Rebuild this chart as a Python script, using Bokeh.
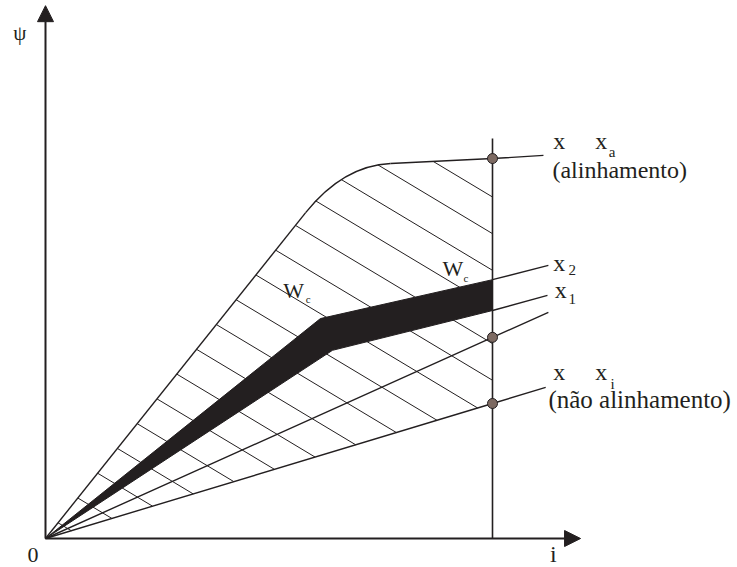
from bokeh.plotting import figure
from bokeh.models import Range1d, Arrow, NormalHead
from bokeh.core.properties import value
from bokeh.embed import file_html
from bokeh.resources import INLINE

INK = "#231f20"
DOT = "#7d6a62"
SERIF = "Liberation Serif"

# Flux linkage psi against current i (arbitrary units, i = 10 at the operating current)
I_MAX = 10.0

# aligned position x_a: linear, saturation knee (quadratic Bezier), then flat
ALIGNED_I = [0.0, 5.82, 7.72, 10.0, 11.14]
ALIGNED_PSI = [0.0, 7.29, 8.39, 8.50, 8.57]
KNEE_CTRL = (6.66, 8.34)

# unaligned position x_i
UNALIGNED_I = [0.0, 10.0, 11.19]
UNALIGNED_PSI = [0.0, 3.02, 3.38]

# intermediate position
MIDDLE_I = [0.0, 10.0, 11.25]
MIDDLE_PSI = [0.0, 4.50, 5.06]

# black band between positions x_1 and x_2
BAND_TOP_I = [0.0, 6.15, 10.0]
BAND_TOP_PSI = [0.0, 4.92, 5.79]
BAND_BOT_I = [0.0, 6.42, 10.0]
BAND_BOT_PSI = [0.0, 4.21, 5.10]
X2_END = (11.25, 6.11)
X1_END = (11.23, 5.44)

# operating points on the i = I_MAX line
DOT_PSI = [8.50, 4.50, 3.02]
VLINE_TOP = 8.95

# hatching of the co-energy area W_c
HATCH_SLOPE = -0.60
HATCH_STEP = 0.82
HATCH_REF = 12.0  # intercept of one hatch line

# axis arrow tips
X_TIP = 11.97
Y_TIP = 11.92

# labels: text, i, psi (baseline), font size in px, alignment
LABELS = [
    ("\u03c8", -0.72, 11.12, 21, "left"),
    ("0", -0.28, -0.56, 22, "center"),
    ("i", 11.36, -0.54, 24, "center"),
    ("x", 11.36, 8.68, 24, "left"),
    ("x", 12.30, 8.68, 24, "left"),
    ("a", 12.60, 8.52, 15, "left"),
    ("(alinhamento)", 11.34, 8.05, 24, "left"),
    ("x", 11.36, 5.95, 24, "left"),
    ("2", 11.70, 5.88, 15, "left"),
    ("x", 11.39, 5.35, 24, "left"),
    ("1", 11.70, 5.23, 15, "left"),
    ("x", 11.36, 3.52, 24, "left"),
    ("x", 12.30, 3.52, 24, "left"),
    ("i", 12.64, 3.33, 15, "left"),
    ("(n\u00e3o alinhamento)", 11.25, 2.90, 25, "left"),
    ("W", 5.32, 5.37, 22, "left"),
    ("c", 5.82, 5.26, 11, "left"),
    ("W", 8.88, 5.86, 22, "left"),
    ("c", 9.35, 5.73, 11, "left"),
]

SCALE = 44.7  # pixels per unit on both axes
W, H = 737, 567
p = figure(width=W, height=H, output_backend="svg", toolbar_location=None,
           x_axis_type=None, y_axis_type=None, min_border=0,
           x_range=Range1d(-45 / SCALE, (W - 45) / SCALE),
           y_range=Range1d(-(H - 538) / SCALE, 538 / SCALE))
p.grid.visible = False
p.outline_line_color = None
p.background_fill_color = "white"
p.border_fill_color = "white"


def bezier_points(p0, c, p1, n=40):
    pts = []
    for k in range(n + 1):
        t = k / n
        a, b, d = (1 - t) ** 2, 2 * (1 - t) * t, t ** 2
        pts.append((a * p0[0] + b * c[0] + d * p1[0], a * p0[1] + b * c[1] + d * p1[1]))
    return pts


# outline of the hatched area: aligned curve, i = I_MAX, unaligned line
knee = bezier_points((ALIGNED_I[1], ALIGNED_PSI[1]), KNEE_CTRL, (ALIGNED_I[2], ALIGNED_PSI[2]))
region = [(0.0, 0.0)] + knee + [(ALIGNED_I[3], ALIGNED_PSI[3]), (UNALIGNED_I[1], UNALIGNED_PSI[1])]

hx0, hy0, hx1, hy1 = [], [], [], []
for k in range(-30, 10):
    b = HATCH_REF + k * HATCH_STEP
    hits = []
    for j in range(len(region)):
        (ax, ay), (bx, by) = region[j], region[(j + 1) % len(region)]
        fa = ay - (b + HATCH_SLOPE * ax)
        fb = by - (b + HATCH_SLOPE * bx)
        if fa == fb or fa * fb > 0:
            continue
        t = fa / (fa - fb)
        hits.append((ax + t * (bx - ax), ay + t * (by - ay)))
    if len(hits) >= 2:
        hits.sort()
        (sx, sy), (ex, ey) = hits[0], hits[-1]
        if ex - sx > 1e-3:
            hx0.append(sx); hy0.append(sy); hx1.append(ex); hy1.append(ey)

p.segment(x0=hx0, y0=hy0, x1=hx1, y1=hy1, line_color=INK, line_width=1)

# black band
band_x = BAND_TOP_I + BAND_BOT_I[::-1][:-1]
band_y = BAND_TOP_PSI + BAND_BOT_PSI[::-1][:-1]
p.patch(band_x, band_y, fill_color=INK, line_color=INK, line_width=1)

LW = 1.4
# aligned curve
p.line(ALIGNED_I[:2], ALIGNED_PSI[:2], line_color=INK, line_width=LW)
p.quadratic(x0=[ALIGNED_I[1]], y0=[ALIGNED_PSI[1]], x1=[ALIGNED_I[2]], y1=[ALIGNED_PSI[2]],
            cx=[KNEE_CTRL[0]], cy=[KNEE_CTRL[1]], line_color=INK, line_width=LW)
p.line(ALIGNED_I[2:], ALIGNED_PSI[2:], line_color=INK, line_width=LW)

p.line(UNALIGNED_I, UNALIGNED_PSI, line_color=INK, line_width=LW)
p.line(MIDDLE_I, MIDDLE_PSI, line_color=INK, line_width=LW)
p.line([BAND_TOP_I[-1], X2_END[0]], [BAND_TOP_PSI[-1], X2_END[1]], line_color=INK, line_width=LW)
p.line([BAND_BOT_I[-1], X1_END[0]], [BAND_BOT_PSI[-1], X1_END[1]], line_color=INK, line_width=LW)

# i = I_MAX
p.line([I_MAX, I_MAX], [0, VLINE_TOP], line_color=INK, line_width=1.6)

p.scatter([I_MAX] * len(DOT_PSI), DOT_PSI, size=10, fill_color=DOT, line_color=INK, line_width=1)

# axes with arrow heads
for xe, ye in [(X_TIP, 0.0), (0.0, Y_TIP)]:
    p.add_layout(Arrow(end=NormalHead(size=16, fill_color=INK, line_color=INK, line_width=1),
                       x_start=0.0, y_start=0.0, x_end=xe, y_end=ye,
                       line_color=INK, line_width=2))

# the svg text baseline sits a little low; lift each label by a fraction of its size
LIFT = 0.38
for txt, lx, ly, fs, al in LABELS:
    p.text(x=[lx], y=[ly + LIFT * fs / SCALE], text=[txt], text_font=value(SERIF),
           text_font_size=value(f"{fs}px"), text_align=al, text_baseline="alphabetic",
           text_color=INK)

open("out.html", "w").write(file_html(p, INLINE))
